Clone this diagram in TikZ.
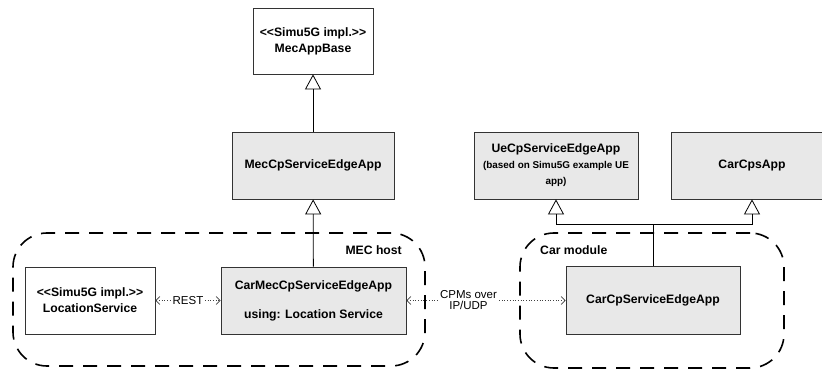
\documentclass[tikz,border=0pt]{standalone}
\usepackage{fontspec}
\newfontfamily\uifont{Liberation Sans}
\usetikzlibrary{arrows.meta, calc}

\definecolor{boxgray}{HTML}{E8E8E8}

\tikzset{
  umlbox/.style={draw=black!80, line width=0.8pt, fill=boxgray, align=center, inner sep=0pt,
    font=\uifont\bfseries\fontsize{12.2}{16}\selectfont},
  implbox/.style={umlbox, fill=white},
  hostbox/.style={draw=black, line width=1.6pt, dash pattern=on 14pt off 10pt,
    rounded corners=34pt, inner sep=0pt},
  hostlabel/.style={font=\uifont\bfseries\fontsize{12.2}{16}\selectfont, inner sep=0pt},
  inherit/.style={draw=black, line width=0.8pt, -{Triangle[open, length=15pt, width=16pt]}},
  msgline/.style={draw=black!75, line width=0.7pt, dotted,
    {Straight Barb[length=4pt, width=8pt, line width=0.7pt]}-{Straight Barb[length=4pt, width=8pt, line width=0.7pt]}},
  msglabel/.style={fill=white, inner sep=1.5pt, align=center,
    font=\uifont\fontsize{11.5}{11}\selectfont}
}

\begin{document}
\begin{tikzpicture}[x=1pt, y=-1pt]
  \useasboundingbox (0,0) rectangle (822,371);

  % Deployment hosts (dashed groups)
  \node[hostbox, minimum width=412pt, minimum height=133pt] (mechost) at (219,299.5) {};
  \node[hostbox, minimum width=264pt, minimum height=135pt] (carmodule) at (652,300.5) {};
  \node[hostlabel, anchor=east] (mechostlbl) at (402,250) {MEC host};
  \node[hostlabel, anchor=west] (carmodulelbl) at (540,250) {Car module};

  % Classes
  \node[implbox, minimum width=120pt, minimum height=66pt] (mecbase) at (313,41)
    {<{}<Simu5G impl.>{}>\\MecAppBase};
  \node[umlbox, minimum width=162pt, minimum height=67pt] (mecapp) at (313,165.5)
    {MecCpServiceEdgeApp};
  \node[umlbox, minimum width=185pt, minimum height=67pt] (carmec) at (313.5,300.5)
    {CarMecCpServiceEdgeApp\\[13pt]using: Location Service};
  \node[implbox, minimum width=130pt, minimum height=67pt] (locsvc) at (90,300.5)
    {<{}<Simu5G impl.>{}>\\LocationService};
  \node[umlbox, minimum width=164pt, minimum height=67pt] (uecp) at (556,165.5)
    {UeCpServiceEdgeApp\\{\fontsize{9.9}{16}\selectfont (based on Simu5G example UE}\\{\fontsize{9.9}{16}\selectfont app)}};
  \node[umlbox, minimum width=162pt, minimum height=67pt] (carcps) at (752,165.5)
    {CarCpsApp};
  \node[umlbox, minimum width=174pt, minimum height=68pt] (carcp) at (653,300.5)
    {CarCpServiceEdgeApp};

  % Inheritance
  \draw[inherit] (mecapp) -- (mecbase);
  \draw[inherit] (carmec) -- (mecapp);
  \coordinate (junc) at ($(carcp.north |- 0,224)$);
  \draw[line width=0.8pt] (carcp.north) -- (junc);
  \draw[inherit] (junc) -| (uecp);
  \draw[inherit] (junc) -| (carcps);

  % Messages
  \draw[msgline] (locsvc) -- node[msglabel] (restlbl) {REST} (carmec);
  \draw[msgline] (carmec) -- node[msglabel, pos=0.39] (cpmlbl) {CPMs over\\IP/UDP} (carcp);
\end{tikzpicture}
\end{document}
